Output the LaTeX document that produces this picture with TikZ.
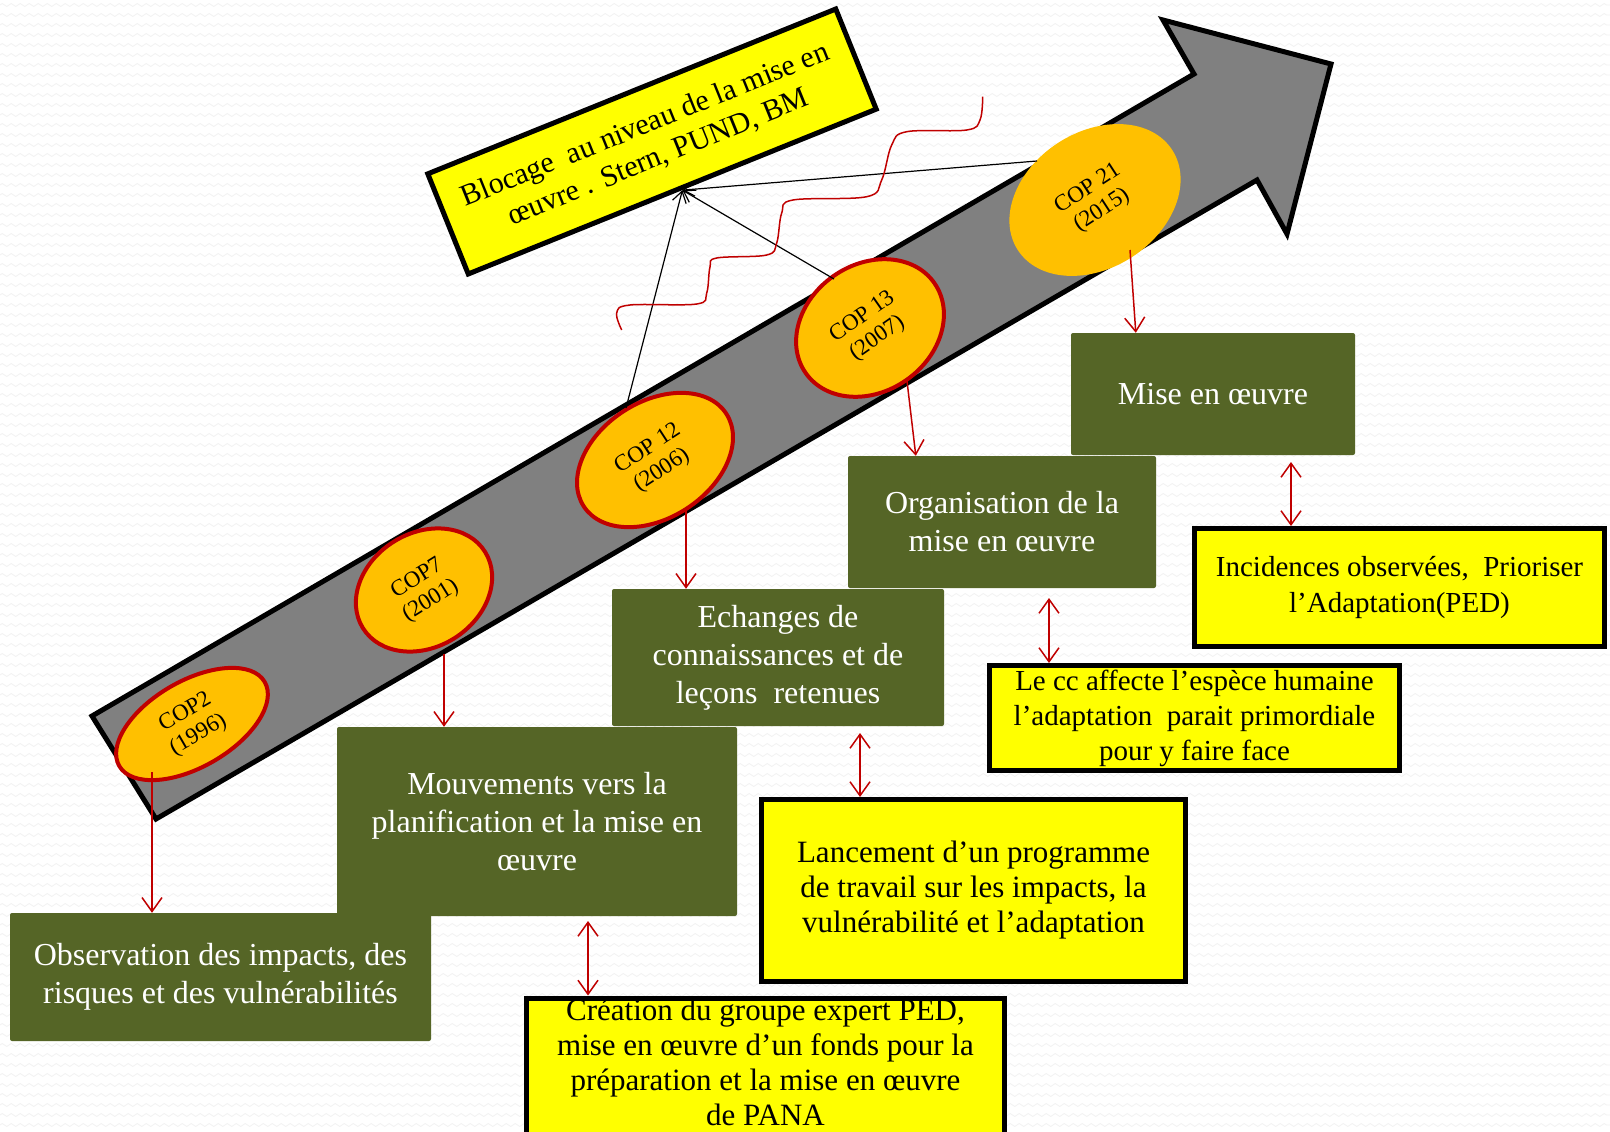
\documentclass[tikz,border=0pt]{standalone}
\usepackage{fontspec}
\setmainfont{Liberation Serif}
\usetikzlibrary{shapes.geometric,arrows.meta,decorations.pathmorphing,calc}
\definecolor{vertolive}{RGB}{85,101,38}
\definecolor{jaunevif}{RGB}{255,255,0}
\definecolor{orangecop}{RGB}{255,192,0}
\definecolor{rougecop}{RGB}{192,0,0}
\definecolor{grisfleche}{RGB}{128,128,128}
\begin{document}
\begin{tikzpicture}[x=1pt,y=-1pt,
		vert/.style={fill=vertolive,text=white,align=center,rounded corners=2pt,inner sep=0pt,font=\fontsize{32}{38}\selectfont},
		cadre/.style={draw=black,line width=5pt,fill=jaunevif,inner sep=0pt,align=center},
		cop/.style={ellipse,draw=rougecop,line width=4pt,fill=orangecop,inner sep=0pt,align=center,font=\fontsize{23}{26}\selectfont},
		rouge/.style={draw=rougecop,line width=1.5pt,-{Straight Barb[length=14pt,width=20pt]}},
		rouge2/.style={rouge,{Straight Barb[length=14pt,width=20pt]}-{Straight Barb[length=14pt,width=20pt]}},
		noire/.style={line width=1.2pt,-{Straight Barb[length=11pt,width=14pt]}}]
			\useasboundingbox (0,0) rectangle (1610,1132);
			\clip (0,0) rectangle (1610,1132);
			\fill[white] (0,0) rectangle (1610,1132);
			\foreach \yy in {5,15,...,1135}
			\draw[gray!10,line width=0.8pt,decorate,decoration={zigzag,segment length=9pt,amplitude=1.5pt}] (0,\yy)--(1610,\yy);
			\draw[fill=grisfleche,line width=5pt,line join=miter] (92,716)--(1194,74)--(1163,20)--(1331,64)--(1287,234)--(1257,180)--(156,819)--cycle;
			\node[cop,minimum width=168pt,minimum height=86pt,rotate=30] (cop2) at (192,724) {COP2\\(1996)};
			\node[cop,minimum width=144pt,minimum height=114pt,rotate=32] (cop7) at (424,590) {COP7\\(2001)};
			\node[cop,minimum width=170pt,minimum height=116pt,rotate=33] (cop12) at (655,460) {COP 12\\(2006)};
			\node[cop,minimum width=157pt,minimum height=127pt,rotate=35] (cop13) at (870,328) {COP 13\\(2007)};
			\node[cop,draw=none,minimum width=184pt,minimum height=136pt,rotate=33] (cop21) at (1095,200) {COP 21\\(2015)};
			\node[vert,minimum width=421pt,minimum height=128pt] (obs) at (220.5,977) {Observation des impacts, des\\risques et des vulnérabilités};
			\node[vert,minimum width=400pt,minimum height=189pt] (mouv) at (537,821.5) {Mouvements vers la\\planification et la mise en\\œuvre};
			\node[vert,minimum width=332pt,minimum height=137pt] (ech) at (778,657.5) {Echanges de\\connaissances et de\\leçons\ \ retenues};
			\node[vert,minimum width=308pt,minimum height=132pt] (org) at (1002,522) {Organisation de la\\mise en œuvre};
			\node[vert,minimum width=284pt,minimum height=122pt] (mise) at (1213,394) {Mise en œuvre};
			\node[cadre,minimum width=440pt,minimum height=108pt,rotate=22,font=\fontsize{30}{35}\selectfont] (bloc) at (652,141.5) {Blocage\ \ au niveau de la mise en\\œuvre . Stern, PUND, BM};
			\node[cadre,minimum width=410pt,minimum height=118pt,font=\fontsize{29}{36}\selectfont] (incid) at (1399.5,587.5) {Incidences observées,\ \ Prioriser\\l’Adaptation(PED)};
			\node[cadre,minimum width=410pt,minimum height=105pt,font=\fontsize{29}{35}\selectfont] (lecc) at (1194.5,718) {Le cc affecte l’espèce humaine\\l’adaptation\ \ parait primordiale\\pour y faire face};
			\node[cadre,minimum width=424pt,minimum height=182pt,font=\fontsize{31}{35}\selectfont] (lanc) at (973.5,890.5) {Lancement d’un programme\\de travail sur les impacts, la\\vulnérabilité et l’adaptation};
			\node[cadre,minimum width=478pt,minimum height=170pt] (creat) at (765.5,1083) {};
			\node[anchor=north,inner sep=0pt,align=center,font=\fontsize{31}{35}\selectfont] (creattxt) at ([yshift=-3pt]creat.north) {Création du groupe expert PED,\\mise en œuvre d’un fonds pour la\\préparation et la mise en œuvre\\de PANA};
			\coordinate (s2) at (152,772);
			\coordinate (s7) at (444,654);
			\coordinate (s12) at (686,510);
			\coordinate (s13) at (907,381);
			\coordinate (s21) at (1130,250);
			\draw[rouge] (s2)--(obs.north -| s2);
			\draw[rouge] (s7)--(mouv.north -| s7);
			\draw[rouge] (s12)--(ech.north -| s12);
			\draw[rouge] (s13)--($(org.north west)+(68,0)$);
			\draw[rouge] (s21)--($(mise.north west)+(65,0)$);
			\coordinate (h1) at (588,921);
			\coordinate (h2) at (860,733);
			\coordinate (h3) at (1049,598);
			\coordinate (h4) at (1291,462);
			\draw[rouge2] (h1)--(creat.north -| h1);
			\draw[rouge2] (h2)--(lanc.north -| h2);
			\draw[rouge2] (h3)--(lecc.north -| h3);
			\draw[rouge2] (h4)--(incid.north -| h4);
			\coordinate (n12) at (626,408);
			\coordinate (n13) at (834,279);
			\coordinate (n21) at (1037,161);
			\draw[noire] (n12)--(bloc.-80);
			\draw[noire] (n13)--(bloc.-80);
			\draw[noire] (n21)--(bloc.-80);
			\draw[rougecop,line width=1.5pt] plot[smooth,tension=0.6] coordinates {(621.7,330) (616.7,313) (630,305) (696.7,304) (706.7,293) (710,267) (716.7,258) (766.7,255) (776.7,243) (781.7,213) (793,200) (866.7,196.7) (881.7,180) (891.7,145) (906.7,131.7) (966.7,130) (980,120) (982.7,96.7)};
		\end{tikzpicture}
\end{document}
